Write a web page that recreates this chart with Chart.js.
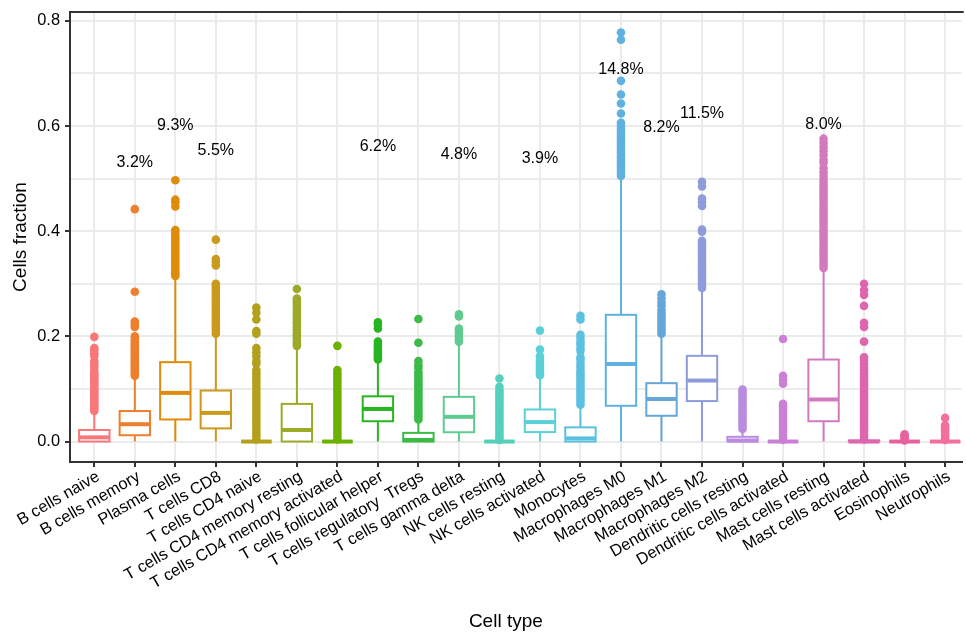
<!DOCTYPE html>
<html><head><meta charset="utf-8">
<script src="https://cdn.jsdelivr.net/npm/chart.js@4/dist/chart.umd.min.js"></script>
<style>html,body{margin:0;padding:0;background:#fff;overflow:hidden}#wrap{width:966px;height:633px}</style>
</head><body><div id="wrap"><canvas id="c" width="966" height="633"></canvas></div>
<script>
const categories = ["B cells naive","B cells memory","Plasma cells","T cells CD8","T cells CD4 naive","T cells CD4 memory resting","T cells CD4 memory activated","T cells follicular helper","T cells regulatory  Tregs","T cells gamma delta","NK cells resting","NK cells activated","Monocytes","Macrophages M0","Macrophages M1","Macrophages M2","Dendritic cells resting","Dendritic cells activated","Mast cells resting","Mast cells activated","Eosinophils","Neutrophils"];
const q1      = [0, 0.012, 0.042, 0.025, 0, 0, 0, 0.0386, 0, 0.0177, 0, 0.018, 0, 0.068, 0.049, 0.077, 0, 0, 0.0386, 0, 0, 0];
const medians = [0.008, 0.033, 0.0925, 0.0545, 0, 0.022, 0, 0.062, 0.003, 0.047, 0, 0.037, 0.006, 0.1475, 0.081, 0.116, 0.002, 0, 0.08, 0, 0, 0];
const q3      = [0.022, 0.058, 0.151, 0.097, 0, 0.0716, 0, 0.086, 0.0165, 0.085, 0, 0.061, 0.027, 0.241, 0.111, 0.163, 0.009, 0, 0.156, 0.002, 0, 0];
const whiskerLow  = [0, 0, 0, 0, 0, 0, 0, 0, 0, 0, 0, 0, 0, 0, 0, 0, 0, 0, 0, 0, 0, 0];
const whiskerHigh = [0.056, 0.121, 0.311, 0.2, 0, 0.178, 0, 0.152, 0.04, 0.185, 0, 0.122, 0.066, 0.502, 0.2, 0.289, 0.021, 0, 0.328, 0.005, 0, 0];
const outliers = [
  [0.058,0.062,0.066,0.07,0.074,0.078,0.082,0.086,0.09,0.094,0.098,0.102,0.106,0.11,0.114,0.118,0.122,0.126,0.13,0.135,0.142,0.148,0.153,0.163,0.168,0.174,0.178,0.199],
  [0.125,0.129,0.133,0.137,0.141,0.145,0.149,0.153,0.157,0.161,0.165,0.169,0.173,0.177,0.181,0.185,0.19,0.195,0.2,0.218,0.223,0.228,0.285,0.442],
  [0.315,0.32,0.325,0.33,0.335,0.34,0.345,0.35,0.355,0.36,0.365,0.37,0.375,0.38,0.385,0.39,0.395,0.402,0.447,0.455,0.46,0.497],
  [0.205,0.21,0.215,0.22,0.225,0.23,0.235,0.24,0.245,0.25,0.255,0.26,0.265,0.27,0.275,0.28,0.285,0.29,0.295,0.3,0.335,0.342,0.347,0.384],
  [0.004,0.01,0.016,0.022,0.028,0.034,0.04,0.046,0.052,0.058,0.064,0.07,0.076,0.082,0.088,0.094,0.1,0.106,0.112,0.118,0.124,0.13,0.136,0.148,0.153,0.162,0.17,0.178,0.205,0.21,0.232,0.245,0.255],
  [0.182,0.187,0.192,0.197,0.202,0.207,0.212,0.217,0.222,0.227,0.232,0.237,0.242,0.247,0.252,0.257,0.262,0.267,0.272,0.29],
  [0.004,0.01,0.016,0.022,0.028,0.034,0.04,0.046,0.052,0.058,0.064,0.07,0.076,0.082,0.088,0.094,0.1,0.106,0.112,0.118,0.124,0.13,0.136,0.182],
  [0.156,0.16,0.164,0.168,0.172,0.176,0.18,0.185,0.19,0.215,0.222,0.227],
  [0.042,0.047,0.052,0.057,0.062,0.067,0.072,0.077,0.082,0.087,0.092,0.097,0.102,0.107,0.112,0.117,0.122,0.127,0.132,0.14,0.145,0.153,0.188,0.233],
  [0.19,0.195,0.2,0.205,0.21,0.215,0.238,0.242],
  [0.003,0.008,0.013,0.018,0.023,0.028,0.033,0.038,0.043,0.048,0.053,0.058,0.063,0.068,0.073,0.078,0.083,0.088,0.093,0.098,0.104,0.12],
  [0.126,0.13,0.135,0.14,0.145,0.15,0.155,0.162,0.175,0.211],
  [0.07,0.075,0.08,0.085,0.09,0.095,0.1,0.105,0.11,0.115,0.12,0.125,0.13,0.135,0.142,0.148,0.155,0.16,0.172,0.178,0.185,0.19,0.197,0.203,0.232,0.239],
  [0.505,0.51,0.515,0.52,0.525,0.53,0.535,0.54,0.545,0.55,0.555,0.56,0.565,0.57,0.575,0.58,0.585,0.59,0.595,0.6,0.606,0.624,0.643,0.66,0.686,0.764,0.778],
  [0.205,0.21,0.215,0.22,0.225,0.23,0.235,0.24,0.245,0.25,0.258,0.265,0.272,0.28],
  [0.292,0.297,0.302,0.307,0.312,0.317,0.322,0.327,0.332,0.337,0.342,0.347,0.352,0.357,0.362,0.367,0.372,0.377,0.382,0.399,0.403,0.448,0.455,0.462,0.485,0.494],
  [0.024,0.029,0.034,0.039,0.044,0.049,0.054,0.059,0.064,0.069,0.074,0.079,0.084,0.089,0.094,0.099],
  [0.003,0.008,0.013,0.018,0.023,0.028,0.033,0.038,0.043,0.048,0.053,0.058,0.063,0.067,0.072,0.11,0.117,0.125,0.195],
  [0.33,0.336,0.342,0.348,0.354,0.36,0.366,0.372,0.378,0.384,0.39,0.396,0.402,0.408,0.414,0.42,0.426,0.432,0.438,0.444,0.45,0.456,0.462,0.468,0.474,0.48,0.486,0.492,0.498,0.505,0.512,0.52,0.53,0.536,0.545,0.552,0.56,0.568,0.576],
  [0.004,0.009,0.014,0.019,0.024,0.029,0.034,0.039,0.044,0.049,0.054,0.059,0.064,0.069,0.074,0.079,0.084,0.089,0.094,0.099,0.104,0.109,0.114,0.119,0.124,0.13,0.136,0.142,0.148,0.155,0.16,0.19,0.218,0.226,0.258,0.279,0.288,0.3],
  [0.002,0.005,0.008,0.011,0.014],
  [0.003,0.007,0.011,0.015,0.019,0.023,0.027,0.031,0.045]
];
const pctLabels = ["","3.2%","9.3%","5.5%","","","","6.2%","","4.8%","","3.9%","","14.8%","8.2%","11.5%","","","8.0%","","",""];
const pctLabelY = [null,0.53,0.60,0.553,null,null,null,0.56,null,0.545,null,0.5375,null,0.708,0.597,0.623,null,null,0.602,null,null,null];
const yTickValues = [0,0.1,0.2,0.3,0.4,0.5,0.6,0.7,0.8];
const yTickLabels = ["0.0","","0.2","","0.4","","0.6","","0.8"];
const palette = ["#F8787A","#EE7F2E","#DE8C0A","#CA9A1C","#B3A11E","#9CAA27","#6BB200","#27B521","#3BBA45","#5FCB91","#55D0BC","#5BD0D6","#5CC1E0","#5FB1DF","#67A6D8","#8F9CDB","#B98CE0","#CB7FD7","#D37ABF","#DE66AE","#E6629E","#F3709A"];

Chart.defaults.font.family = "'Liberation Sans', Arial, sans-serif";
Chart.defaults.color = '#000';
const n = categories.length;

const boxPlugin = {
  id: 'boxes',
  afterDatasetsDraw(chart) {
    const ctx = chart.ctx, xs = chart.scales.x, ys = chart.scales.y;
    ctx.save();
    for (let i = 0; i < n; i++) {
      const cx = xs.getPixelForValue(i);
      const hw = xs.getPixelForValue(i + 0.375) - cx;
      const yq1 = ys.getPixelForValue(q1[i]), yq3 = ys.getPixelForValue(q3[i]);
      const ym = ys.getPixelForValue(medians[i]);
      ctx.strokeStyle = palette[i];
      ctx.lineWidth = 2;
      ctx.beginPath();
      ctx.moveTo(cx, ys.getPixelForValue(whiskerHigh[i])); ctx.lineTo(cx, yq3);
      ctx.moveTo(cx, yq1); ctx.lineTo(cx, ys.getPixelForValue(whiskerLow[i]));
      ctx.stroke();
      ctx.fillStyle = '#fff';
      ctx.fillRect(cx - hw, yq3, 2 * hw, yq1 - yq3);
      ctx.strokeRect(cx - hw, yq3, 2 * hw, yq1 - yq3);
      ctx.lineWidth = 4;
      ctx.beginPath(); ctx.moveTo(cx - hw, ym); ctx.lineTo(cx + hw, ym); ctx.stroke();
    }
    ctx.fillStyle = '#000';
    ctx.font = "16px 'Liberation Sans', Arial, sans-serif";
    ctx.textAlign = 'center'; ctx.textBaseline = 'middle';
    for (let i = 0; i < n; i++) {
      if (pctLabels[i]) ctx.fillText(pctLabels[i], xs.getPixelForValue(i), ys.getPixelForValue(pctLabelY[i]));
    }
    const a = chart.chartArea;
    ctx.strokeStyle = '#333'; ctx.lineWidth = 2;
    ctx.beginPath(); ctx.moveTo(a.left - 1, a.top); ctx.lineTo(a.right + 2, a.top); ctx.stroke();
    ctx.font = "19px 'Liberation Sans', Arial, sans-serif";
    ctx.textBaseline = 'middle';
    ctx.fillText('Cell type', (a.left + a.right) / 2 - 10, chart.height - 11);
    ctx.restore();
  }
};

const datasets = categories.map((c, i) => ({
  label: c,
  data: outliers[i].map(v => ({ x: i, y: v })),
  backgroundColor: palette[i],
  borderWidth: 0,
  pointRadius: 4.3,
  pointHoverRadius: 4.3
}));

new Chart(document.getElementById('c'), {
  type: 'scatter',
  data: { datasets },
  plugins: [boxPlugin],
  options: {
    responsive: false,
    animation: false,
    devicePixelRatio: 1,
    layout: { padding: { top: 12, left: 0, right: 0, bottom: 0 } },
    plugins: { legend: { display: false }, tooltip: { enabled: false } },
    scales: {
      x: {
        type: 'linear', min: -0.6, max: 21.41,
        afterBuildTicks: s => { s.ticks = categories.map((_, i) => ({ value: i })); },
        afterFit: s => { s.height = 171; s.paddingLeft = 0; s.paddingRight = 0; },
        ticks: { autoSkip: false, minRotation: 30, maxRotation: 30, padding: 0, labelOffset: 4, font: { size: 16.4 }, color: '#000',
                 callback: v => categories[v] },
        grid: { color: '#EBEBEB', lineWidth: 2, tickColor: '#333', tickLength: 5, tickWidth: 2 },
        border: { display: true, color: '#333', width: 2 },
        title: { display: false }
      },
      y: {
        type: 'linear', min: -0.0389, max: 0.8169,
        afterBuildTicks: s => { s.ticks = yTickValues.map(v => ({ value: v })); },
        afterFit: s => { s.width = 70; s.paddingTop = 0; s.paddingBottom = 0; },
        ticks: { autoSkip: false, padding: 5, font: { size: 16.4 }, color: '#000',
                 callback: (v, i) => yTickLabels[i] },
        grid: { color: '#EBEBEB', lineWidth: 2, tickLength: 5, tickWidth: 2,
                tickColor: ctx => (ctx.index % 2 === 0 ? '#333' : 'rgba(0,0,0,0)') },
        border: { display: true, color: '#333', width: 2 },
        title: { display: true, text: 'Cells fraction', font: { size: 19 }, color: '#000', padding: { top: 9, bottom: 0 } }
      }
    }
  }
});
</script></body></html>
